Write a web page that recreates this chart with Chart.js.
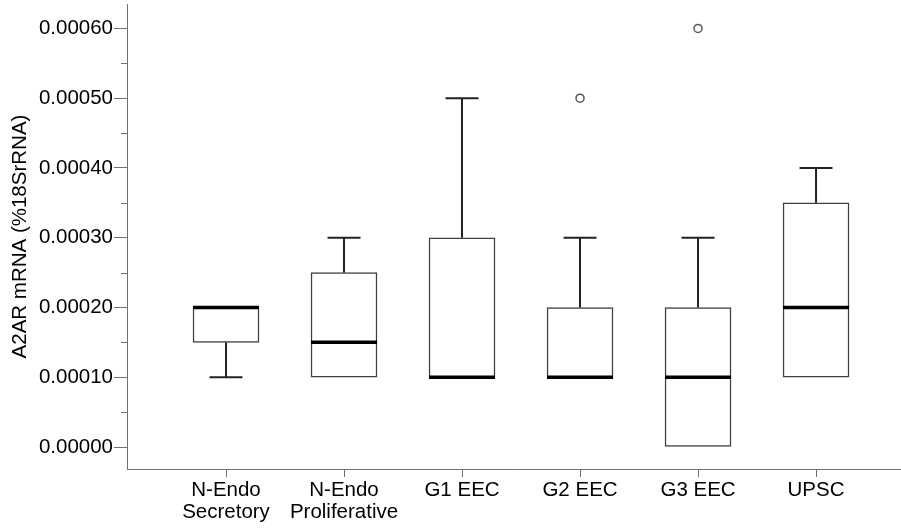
<!DOCTYPE html>
<html><head><meta charset="utf-8">
<script src="https://cdn.jsdelivr.net/npm/chart.js@4/dist/chart.umd.min.js"></script>
<style>html,body{margin:0;padding:0;background:#fff}#w{width:901px;height:529px}</style>
</head><body><div id="w"><canvas id="c" width="901" height="529"></canvas></div>
<script>
const categories = [['N-Endo','Secretory'],['N-Endo','Proliferative'],['G1 EEC'],['G2 EEC'],['G3 EEC'],['UPSC']];
const whiskerLow = [0.0001, 0.0001, 0.0001, 0.0001, 0.0, 0.0001];
const q1 =         [0.00015,0.0001, 0.0001, 0.0001, 0.0, 0.0001];
const median =     [0.0002, 0.00015,0.0001, 0.0001, 0.0001,0.0002];
const q3 =         [0.0002, 0.00025,0.0003, 0.0002, 0.0002,0.00035];
const whiskerHigh =[0.0002, 0.0003, 0.0005, 0.0003, 0.0003,0.0004];
const outliers = [{cat:3, value:0.0005},{cat:4, value:0.0006}];
const yTicks = [0, 0.0001, 0.0002, 0.0003, 0.0004, 0.0005, 0.0006];
const yMinorTicks = [0.00005, 0.00015, 0.00025, 0.00035, 0.00045, 0.00055];
const yTitle = 'A2AR mRNA (%18SrRNA)';

const AX = '#707070';
const FONT = {family:'"Liberation Sans", Arial, sans-serif', size:20.5, lineHeight:1.08};

const boxPlugin = {
  id:'boxExtras',
  afterDatasetsDraw(chart){
    const ctx = chart.ctx, x = chart.scales.x, y = chart.scales.y;
    ctx.save();
    ctx.strokeStyle = AX; ctx.lineWidth = 1;
    yMinorTicks.forEach(v=>{
      const py = Math.round(y.getPixelForValue(v))+0.5;
      ctx.beginPath(); ctx.moveTo(x.left-6, py); ctx.lineTo(x.left, py); ctx.stroke();
    });
    const capHalf = 16.5;
    categories.forEach((c,i)=>{
      const cx = x.getPixelForValue(i);
      ctx.strokeStyle = '#222'; ctx.lineWidth = 2;
      if (whiskerHigh[i] > q3[i]) {
        const top = y.getPixelForValue(whiskerHigh[i]), b = y.getPixelForValue(q3[i]);
        ctx.beginPath(); ctx.moveTo(cx, b); ctx.lineTo(cx, top); ctx.stroke();
        ctx.beginPath(); ctx.moveTo(cx-capHalf, top); ctx.lineTo(cx+capHalf, top); ctx.stroke();
      }
      if (whiskerLow[i] < q1[i]) {
        const bot = y.getPixelForValue(whiskerLow[i]), t = y.getPixelForValue(q1[i]);
        ctx.beginPath(); ctx.moveTo(cx, t); ctx.lineTo(cx, bot); ctx.stroke();
        ctx.beginPath(); ctx.moveTo(cx-capHalf, bot); ctx.lineTo(cx+capHalf, bot); ctx.stroke();
      }
      const my = y.getPixelForValue(median[i]);
      ctx.strokeStyle = '#000'; ctx.lineWidth = 3.5;
      ctx.beginPath(); ctx.moveTo(cx-33, my); ctx.lineTo(cx+33, my); ctx.stroke();
    });
    ctx.restore();
  }
};

new Chart(document.getElementById('c'), {
  data:{
    datasets:[
      {type:'bar', data: categories.map((c,i)=>({x:i, y:[q1[i], q3[i]]})),
       backgroundColor:'#ffffff', borderColor:'#404040', borderWidth:1.5, borderSkipped:false,
       barThickness:66},
      {type:'scatter', data: outliers.map(o=>({x:o.cat, y:o.value})),
       pointRadius:4, pointBorderWidth:1.5, pointBorderColor:'#555', pointBackgroundColor:'#fff'}
    ]
  },
  options:{
    responsive:false, animation:false,
    layout:{autoPadding:false, padding:{top:4, right:0, left:0, bottom:0}},
    plugins:{legend:{display:false}, tooltip:{enabled:false}},
    scales:{
      x:{type:'linear', min:-0.839, max:5.72, offset:false,
        afterBuildTicks(s){ s.ticks = categories.map((c,i)=>({value:i})); },
        afterFit(s){ s.height = 60; s.paddingLeft = 0; s.paddingRight = 0; },
        ticks:{autoSkip:false, maxRotation:0, padding:2, color:'#000', font:FONT,
          callback:(v)=>categories[v]},
        grid:{offset:false, drawOnChartArea:false, drawTicks:true, tickLength:8, tickColor:AX},
        border:{color:AX, width:1}
      },
      y:{type:'linear', min:-0.0000315, max:0.000635,
        afterBuildTicks(s){ s.ticks = yTicks.map(v=>({value:v})); },
        afterFit(s){ s.width = 127; s.paddingTop = 0; s.paddingBottom = 0; },
        ticks:{padding:1, color:'#000', font:FONT, callback:(v)=>v.toFixed(5)},
        grid:{drawOnChartArea:false, drawTicks:true, tickLength:13, tickColor:AX},
        border:{color:AX, width:1},
        title:{display:true, text:yTitle, color:'#000', font:FONT, padding:{top:9,bottom:0}}
      }
    }
  },
  plugins:[boxPlugin]
});
</script></body></html>
